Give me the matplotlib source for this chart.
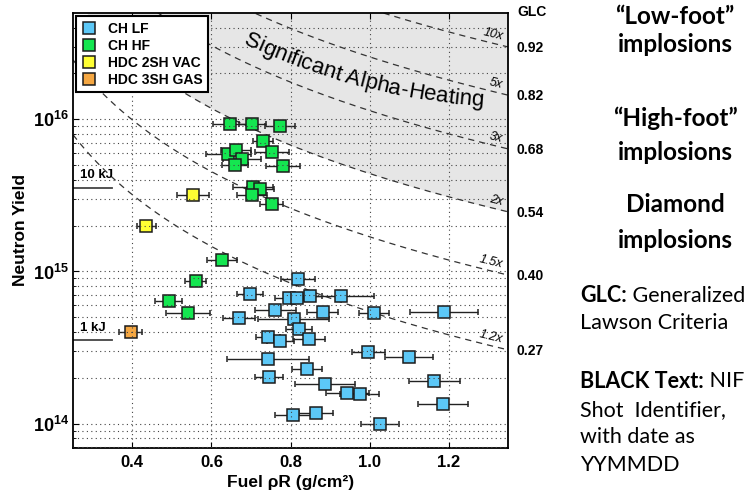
import numpy as np
import matplotlib
matplotlib.use('Agg')
import matplotlib.pyplot as plt
from matplotlib.lines import Line2D
from matplotlib.ticker import LogLocator, FuncFormatter, NullFormatter, MultipleLocator
from matplotlib.transforms import blended_transform_factory
from matplotlib.font_manager import FontProperties

plt.rcParams['font.family'] = ['Liberation Sans', 'DejaVu Sans']
plt.rcParams['mathtext.fontset'] = 'custom'
plt.rcParams['mathtext.rm'] = 'Liberation Sans'
plt.rcParams['mathtext.bf'] = 'Liberation Sans:bold'
plt.rcParams['mathtext.it'] = 'Liberation Sans:italic'

# CH low-foot
lf_rhor = [0.818, 0.697, 0.796, 0.817, 0.850, 0.927, 0.762, 0.881, 1.011, 1.188,
           0.670, 0.808, 0.822, 0.743, 0.774, 0.847, 0.997, 1.100, 0.743, 0.841,
           0.745, 0.887, 1.164, 0.944, 0.975, 1.186, 0.807, 0.865, 1.027]
lf_yield = [8.9e14, 7.16e14, 6.66e14, 6.66e14, 6.9e14, 6.95e14, 5.55e14, 5.4e14, 5.31e14, 5.38e14,
            4.97e14, 4.9e14, 4.17e14, 3.73e14, 3.49e14, 3.6e14, 2.96e14, 2.73e14, 2.66e14, 2.29e14,
            2.02e14, 1.82e14, 1.91e14, 1.58e14, 1.56e14, 1.34e14, 1.14e14, 1.17e14, 9.93e13]
lf_err = [0.043, 0.033, 0.035, 0.03, 0.03, 0.085, 0.053, 0.039, 0.039, 0.086,
          0.04, 0.09, 0.033, 0.03, 0.034, 0.04, 0.042, 0.061, 0.104, 0.038,
          0.036, 0.076, 0.065, 0.055, 0.05, 0.063, 0.046, 0.043, 0.048]

# CH high-foot
hf_rhor = [0.646, 0.703, 0.774, 0.730, 0.754, 0.643, 0.662, 0.677, 0.660, 0.780,
           0.705, 0.724, 0.703, 0.752, 0.627, 0.560, 0.492, 0.541]
hf_yield = [9.27e15, 9.25e15, 9.0e15, 7.18e15, 6.07e15, 5.92e15, 6.25e15, 5.48e15, 5.02e15, 4.93e15,
            3.57e15, 3.46e15, 3.2e15, 2.77e15, 1.19e15, 8.63e14, 6.37e14, 5.36e14]
hf_err = [0.043, 0.034, 0.038, 0.026, 0.043, 0.057, 0.038, 0.048, 0.033, 0.043,
          0.05, 0.035, 0.038, 0.03, 0.038, 0.027, 0.034, 0.056]

# HDC
vac_rhor = [0.553, 0.435]
vac_yield = [3.18e15, 2.0e15]
vac_err = [0.04, 0.024]
gas_rhor = [0.396]
gas_yield = [3.99e14]
gas_err = [0.029]

# yield amplification contours, Y = Y(rhoR=1) * rhoR**-p
amp_labels = ['10x', '5x', '3x', '2x', '1.5x', '1.2x']
glc_values = ['0.92', '0.82', '0.68', '0.54', '0.40', '0.27']
amp_yield_at_1 = [5.33e16, 2.57e16, 1.14e16, 4.4e15, 1.69e15, 5.45e14]
amp_power = 1.93

kj_labels = ['10 kJ', '1 kJ']
kj_yield = [3.55e15, 3.55e14]

W, H = 746, 496
fig = plt.figure(figsize=(W / 100, H / 100), dpi=100)
ax = fig.add_axes([73 / W, 1 - 448 / H, 435 / W, 435 / H])
ax.set_xlim(0.25, 1.35)
ax.set_yscale('log')
ax.set_ylim(6.92e13, 4.99e16)


def contour(x, y1):
    return y1 * np.asarray(x) ** (-amp_power)


xs = np.linspace(0.25, 1.35, 300)
ax.fill_between(xs, contour(xs, amp_yield_at_1[3]), 1e18, color='#e6e6e6', lw=0, zorder=0.2)
for lab, y1 in zip(amp_labels, amp_yield_at_1):
    ax.plot(xs, contour(xs, y1), color='#333333', lw=0.9, ls=(0, (5, 4)), zorder=1.2)

# labels on contours
for lab, y1 in zip(amp_labels, amp_yield_at_1):
    xa, xb = 1.28, 1.34
    p1 = ax.transData.transform((xa, contour(xa, y1)))
    p2 = ax.transData.transform((xb, contour(xb, y1)))
    ang = np.degrees(np.arctan2(p2[1] - p1[1], p2[0] - p1[0]))
    ax.text(1.333, contour(1.333, y1) * 1.04, lab, style='italic', fontsize=9,
            ha='right', va='bottom', rotation=ang, rotation_mode='anchor', zorder=3)

# GLC labels
trans = blended_transform_factory(ax.transAxes, ax.transData)
for g, y1 in zip(glc_values, amp_yield_at_1):
    ax.text(1.02, contour(1.35, y1) * 0.985, g, transform=trans, fontsize=10,
            fontweight='bold', va='center', ha='left', clip_on=False)
fig.text(517 / W, 1 - 12 / H, 'GLC', fontsize=10, fontweight='bold', va='center', ha='left')

# energy markers
for lab, y in zip(kj_labels, kj_yield):
    ax.plot([0.25, 0.349], [y, y], color='#444444', lw=1.3, zorder=1.5)
    ax.text(0.268, y * 1.1, lab, fontsize=9.5, fontweight='bold', ha='left', va='bottom')

series = [
    (lf_rhor, lf_yield, lf_err, '#5cc8f7', 'CH LF'),
    (hf_rhor, hf_yield, hf_err, '#14e650', 'CH HF'),
    (vac_rhor, vac_yield, vac_err, '#ffff33', 'HDC 2SH VAC'),
    (gas_rhor, gas_yield, gas_err, '#f5a742', 'HDC 3SH GAS'),
]
handles = []
for x, y, e, c, lab in series:
    ax.errorbar(x, y, xerr=e, fmt='s', ms=8, mfc=c, mec='#1b1b1b', mew=1.1,
                ecolor='#222222', elinewidth=1.0, capsize=2.5, capthick=1.0, zorder=2)
    handles.append(Line2D([], [], ls='none', marker='s', ms=8, mfc=c, mec='#1b1b1b', mew=1.1, label=lab))

leg = ax.legend(handles=handles, loc='upper left', bbox_to_anchor=(0.008, 0.992),
                borderaxespad=0, frameon=True, fancybox=False, framealpha=1,
                edgecolor='black', prop={'weight': 'bold', 'size': 10},
                handlelength=1.0, handletextpad=0.9, labelspacing=0.22, borderpad=0.38)
leg.get_frame().set_linewidth(1.5)
leg.set_zorder(5)

# grid on top of markers
ax.set_axisbelow(False)
ax.grid(which='major', axis='both', ls=(0, (1, 3)), color='#444444', lw=0.8)
ax.grid(which='minor', axis='y', ls=(0, (1, 3)), color='#444444', lw=0.8)
ax.xaxis.set_major_locator(MultipleLocator(0.2))
ax.yaxis.set_major_locator(LogLocator(base=10))
ax.yaxis.set_minor_locator(LogLocator(base=10, subs=np.arange(2, 10)))
ax.yaxis.set_minor_formatter(NullFormatter())
ax.yaxis.set_major_formatter(FuncFormatter(lambda v, p: r'$\mathbf{10^{%d}}$' % round(np.log10(v))))
ax.xaxis.set_major_formatter(FuncFormatter(lambda v, p: '%.1f' % v))
ax.tick_params(which='both', direction='in', top=True, right=False)
ax.tick_params(which='major', length=4, width=0.8, labelsize=12, pad=5)
ax.tick_params(which='minor', length=2, width=0.6)
for t in ax.get_xticklabels():
    t.set_fontweight('bold')
ax.tick_params(axis='y', labelsize=13, pad=3)
for s in ax.spines.values():
    s.set_linewidth(1.3)

ax.set_xlabel('Fuel ρR (g/cm²)', fontsize=12.5, fontweight='bold', labelpad=4)
ax.set_ylabel('Neutron Yield', fontsize=12.5, fontweight='bold', labelpad=3)

# curved "Significant Alpha-Heating"
fig.canvas.draw()
rend = fig.canvas.get_renderer()
title = 'Significant Alpha-Heating'
tprop = FontProperties(family='Liberation Sans', size=16)


def tw(s):
    return rend.get_text_width_height_descent(s, tprop, ismath=False)[0]


L = tw(title)
th0, th1 = np.radians(25), np.radians(4)
ss = np.linspace(0, L, 400)
ang = th0 + (th1 - th0) * ss / L
px = 243 + np.concatenate([[0], np.cumsum(np.cos(ang[:-1]) * np.diff(ss))])
py = 44 + np.concatenate([[0], np.cumsum(np.sin(ang[:-1]) * np.diff(ss))])
for i, ch in enumerate(title):
    if ch == ' ':
        continue
    s0 = tw(title[:i + 1]) - tw(ch)
    xi = np.interp(s0, ss, px)
    yi = np.interp(s0, ss, py)
    ai = np.degrees(np.interp(s0 + tw(ch) / 2, ss, ang))
    fig.text(xi / W, 1 - yi / H, ch, fontproperties=tprop, rotation=-ai,
             rotation_mode='anchor', ha='left', va='baseline', zorder=4)

# right-hand notes
note_font = ['Lato', 'DejaVu Sans']
cx = 675 / W
for txt, yy in [('“Low-foot”', 17), ('implosions', 45), ('“High-foot”', 118),
                ('implosions', 153), ('Diamond', 204), ('implosions', 240)]:
    fig.text(cx, 1 - yy / H, txt, family=note_font, fontweight='bold', fontsize=17.5,
             ha='center', va='center')

NOTE_SIZE = 15.5


def mixed(x, yy, bold, rest):
    t = fig.text(x / W, 1 - yy / H, bold, family=note_font, fontweight='bold', fontsize=NOTE_SIZE,
                 ha='left', va='center')
    fig.canvas.draw()
    bb = t.get_window_extent(renderer=fig.canvas.get_renderer())
    fig.text(bb.x1 / W, 1 - yy / H, rest, family=note_font, fontsize=NOTE_SIZE, ha='left', va='center')


mixed(580, 296, 'GLC:', ' Generalized')
fig.text(580 / W, 1 - 323 / H, 'Lawson Criteria', family=note_font, fontsize=NOTE_SIZE, ha='left', va='center')
mixed(580, 381, 'BLACK Text:', ' NIF')
for txt, yy in [('Shot  Identifier,', 410), ('with date as', 437), ('YYMMDD', 465)]:
    fig.text(580 / W, 1 - yy / H, txt, family=note_font, fontsize=NOTE_SIZE, ha='left', va='center')

fig.savefig('out.png', dpi=100)
